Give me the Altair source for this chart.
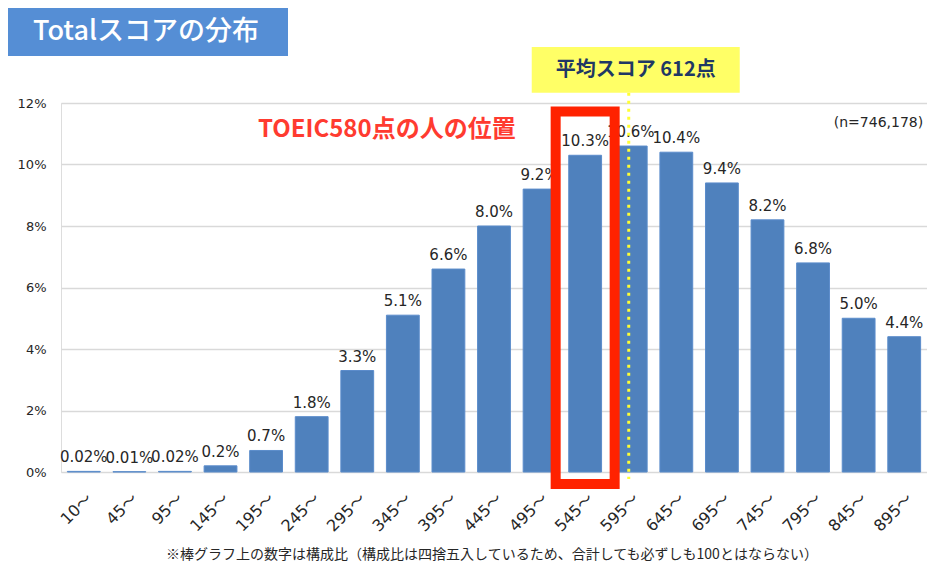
import altair as alt
import pandas as pd

# ---- data ----
categories = ["10～", "45～", "95～", "145～", "195～", "245～", "295～", "345～", "395～",
              "445～", "495～", "545～", "595～", "645～", "695～", "745～", "795～", "845～", "895～"]
shares = [0.02, 0.01, 0.02, 0.2, 0.7, 1.8, 3.3, 5.1, 6.6, 8.0, 9.2, 10.3, 10.6, 10.4,
          9.4, 8.2, 6.8, 5.0, 4.4]
share_labels = ["0.02%", "0.01%", "0.02%", "0.2%", "0.7%", "1.8%", "3.3%", "5.1%", "6.6%",
                "8.0%", "9.2%", "10.3%", "10.6%", "10.4%", "9.4%", "8.2%", "6.8%", "5.0%", "4.4%"]
y_ticks = [0, 2, 4, 6, 8, 10, 12]

title_text = "Totalスコアの分布"
mean_text = "平均スコア 612点"
mean_bin = "595～"
highlight_bin = "545～"
highlight_text = "TOEIC580点の人の位置"
n_text = "(n=746,178)"
footnote = "※棒グラフ上の数字は構成比（構成比は四捨五入しているため、合計しても必ずしも100とはならない）"

df = pd.DataFrame({"cat": categories, "share": shares, "label": share_labels})

FONT = "Noto Sans CJK JP"
NUMFONT = "DejaVu Sans, Noto Sans CJK JP"
W, H = 866, 369

xs = alt.Scale(domain=categories, paddingInner=0.28, paddingOuter=0.14)
ys = alt.Scale(domain=[0, 12], nice=False)

x_enc = alt.X("cat:N", scale=xs, sort=categories, title=None,
              axis=alt.Axis(labelAngle=-45, labelFontSize=16, labelColor="#262626",
                            labelFont=NUMFONT, ticks=False, domain=False, labelPadding=18,
                            grid=False))
y_enc = alt.Y("share:Q", scale=ys, title=None,
              axis=alt.Axis(values=y_ticks, labelExpr="datum.value + '%'", labelFontSize=13,
                            labelColor="#262626", labelFont=NUMFONT, ticks=False, domain=False,
                            gridColor="#d9d9d9", gridWidth=1.3, labelPadding=15))

base = alt.Chart(df)

bars = base.mark_bar(color="#4f81bd", stroke="#5b8ccb", strokeWidth=1).encode(x=x_enc, y=y_enc)

bar_text = base.mark_text(baseline="bottom", dy=-6, fontSize=15, font=NUMFONT,
                          color="#262626").encode(
    x=alt.X("cat:N", scale=xs, sort=categories), y=alt.Y("share:Q", scale=ys),
    text="label:N")

# mean score dotted line and yellow label box
mean_rule = alt.Chart().mark_rule(color="#ffff33", strokeWidth=3, strokeDash=[3, 5],
                                  xOffset=-2).encode(
    x=alt.X(datum=mean_bin, scale=xs, type="nominal"),
    y=alt.Y(datum=12.33, scale=ys, type="quantitative"),
    y2=alt.Y2(datum=-0.23))
mean_box = alt.Chart().mark_bar(color="#ffff66", size=208, xOffset=5).encode(
    x=alt.X(datum=mean_bin, scale=xs, type="nominal"),
    y=alt.Y(datum=13.82, scale=ys, type="quantitative"),
    y2=alt.Y2(datum=12.33))
mean_label = alt.Chart().mark_text(fontSize=20, fontWeight="bold", font=FONT,
                                   color="#1f3864", dx=5).encode(
    x=alt.X(datum=mean_bin, scale=xs, type="nominal"),
    y=alt.Y(datum=13.07, scale=ys, type="quantitative"),
    text=alt.value(mean_text))

# red highlight frame around the 545～ bar
red_box = alt.Chart().mark_bar(filled=False, stroke="#ff2200", strokeWidth=10,
                               size=59).encode(
    x=alt.X(datum=highlight_bin, scale=xs, type="nominal"),
    y=alt.Y(datum=11.72, scale=ys, type="quantitative"),
    y2=alt.Y2(datum=-0.39))
red_label = alt.Chart().mark_text(fontSize=24, fontWeight="bold", font=FONT,
                                  color="#ff3b30", dx=-16).encode(
    x=alt.X(datum="345～", scale=xs, type="nominal"),
    y=alt.Y(datum=11.12, scale=ys, type="quantitative"),
    text=alt.value(highlight_text))

n_label = alt.Chart().mark_text(fontSize=14, font=NUMFONT, color="#262626", align="right",
                                dx=19).encode(
    x=alt.X(datum="895～", scale=xs, type="nominal"),
    y=alt.Y(datum=11.35, scale=ys, type="quantitative"),
    text=alt.value(n_text))

# header box
title_box = alt.Chart().mark_rect(color="#558ed5").encode(
    x=alt.value(-53), x2=alt.value(227), y=alt.value(-95), y2=alt.value(-47))
title_label = alt.Chart().mark_text(fontSize=27, fontWeight=500, font=FONT,
                                    color="white").encode(
    x=alt.value(85), y=alt.value(-71), text=alt.value(title_text))

foot = alt.Chart().mark_text(fontSize=14, font=FONT, color="#262626").encode(
    x=alt.value(431), y=alt.value(452), text=alt.value(footnote))

chart = alt.layer(
    title_box, title_label,
    bars, bar_text, mean_rule, mean_box, mean_label, red_box, red_label, n_label, foot
).properties(
    width=W, height=H,
    autosize=alt.AutoSizeParams(type="none"),
    padding={"left": 53, "top": 95, "right": 0, "bottom": 92},
).configure_view(stroke=None).configure(background="white")

chart.save("out.html", embed_options={"renderer": "svg", "actions": False})
